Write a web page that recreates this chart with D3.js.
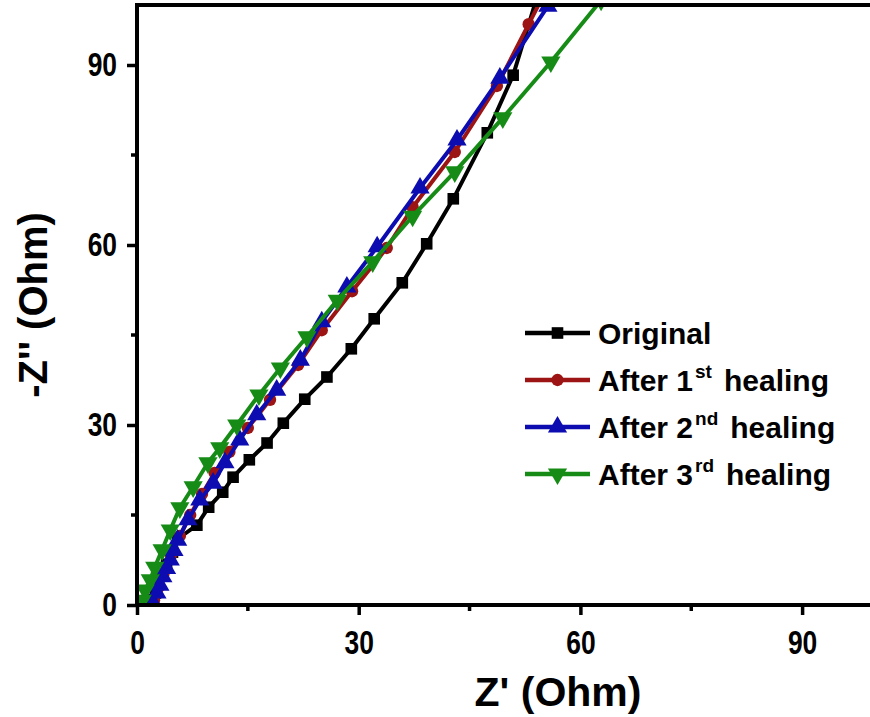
<!DOCTYPE html>
<html>
<head>
<meta charset="utf-8">
<script src="https://cdn.jsdelivr.net/npm/d3@7"></script>
<style>
  body { margin: 0; background: #fff; }
  svg { display: block; }
</style>
</head>
<body>
<svg id="drawing_region"></svg>
<script>
// Z' and -Z'' values (Ohm)
const original_x = [2.0, 2.2, 2.5, 2.9, 3.4, 4.0, 4.8, 5.5, 8.1, 9.7, 11.6, 13.0, 15.2, 17.6, 19.8, 22.7, 25.7, 29.0, 32.1, 35.9, 39.2, 42.8, 47.4, 50.9, 54.8];
const original_y = [0.3, 0.9, 2.0, 3.4, 5.0, 6.8, 8.8, 11.0, 13.3, 16.3, 18.8, 21.3, 24.2, 27.0, 30.3, 34.3, 38.0, 42.7, 47.7, 53.7, 60.2, 67.7, 78.7, 88.3, 104];

const heal1_x = [2.3, 2.8, 3.6, 4.6, 5.8, 7.2, 8.8, 10.5, 12.5, 15.0, 18.0, 21.8, 25.0, 29.1, 33.8, 37.3, 43.0, 48.7, 53.0, 56.0];
const heal1_y = [0.8, 2.8, 5.3, 8.3, 11.5, 15.0, 18.5, 22.0, 25.5, 29.5, 34.2, 40.0, 45.8, 52.3, 59.5, 66.3, 75.5, 86.5, 96.8, 104];

const heal2_x = [2.2, 2.7, 3.1, 3.5, 4.0, 4.5, 5.0, 5.5, 6.9, 8.5, 10.3, 11.9, 13.9, 16.2, 18.9, 22.1, 25.0, 28.4, 32.5, 38.3, 43.3, 49.1, 55.6];
const heal2_y = [0.3, 2.0, 3.3, 4.7, 6.1, 7.5, 9.1, 10.8, 14.2, 17.5, 20.3, 23.7, 27.5, 31.7, 35.8, 40.8, 47.2, 53.0, 59.7, 69.5, 77.5, 87.8, 99.8];

const heal3_x = [0.7, 1.1, 1.8, 2.4, 3.4, 4.5, 5.8, 7.6, 9.6, 11.2, 13.5, 16.5, 19.4, 23.0, 27.1, 31.9, 37.3, 43.0, 49.5, 56.0, 62.8];
const heal3_y = [0.8, 2.5, 4.2, 6.3, 9.2, 12.5, 16.2, 19.7, 23.7, 26.2, 30.0, 35.0, 39.5, 44.7, 50.8, 57.2, 64.8, 72.2, 81.2, 90.5, 100.8];

const series_names = ['Original', 'After 1', 'After 2', 'After 3'];
const series_sup = ['', 'st', 'nd', 'rd'];
const series_colors = ['#000000', '#9c1414', '#0c0cb0', '#168c16'];
const series_symbols = ['square', 'circle', 'triangle', 'down'];

const x_ticks = [0, 30, 60, 90];
const y_ticks = [0, 30, 60, 90];
const minor_ticks = [15, 45, 75];

const series = [
    {x: original_x, y: original_y},
    {x: heal1_x, y: heal1_y},
    {x: heal2_x, y: heal2_y},
    {x: heal3_x, y: heal3_y}
].map((s, i) => ({
    name: series_names[i],
    sup: series_sup[i],
    color: series_colors[i],
    symbol: series_symbols[i],
    points: s.x.map((v, j) => ({x: v, y: s.y[j]}))
}));

const width = 870, height = 717;
const svg = d3.select('#drawing_region')
    .attr('width', width)
    .attr('height', height);

const xscale = d3.scaleLinear().domain([0, 100]).range([137, 876]);
const yscale = d3.scaleLinear().domain([0, 100]).range([605, 5]);

const font = "'Liberation Sans', Arial, sans-serif";

svg.append('defs').append('clipPath').attr('id', 'plot_clip')
    .append('rect')
    .attr('x', xscale(0)).attr('y', yscale(100))
    .attr('width', xscale(100) - xscale(0))
    .attr('height', yscale(0) - yscale(100));

function marker(sym) {
    if (sym === 'square') return d3.symbol(d3.symbolSquare, 135)();
    if (sym === 'circle') return d3.symbol(d3.symbolCircle, 120)();
    return d3.symbol(d3.symbolTriangle, 160)();
}

// data
const plot = svg.append('g').attr('clip-path', 'url(#plot_clip)');
const line = d3.line().x(d => xscale(d.x)).y(d => yscale(d.y));

series.forEach(s => {
    const g = plot.append('g');
    g.append('path')
        .datum(s.points)
        .attr('d', line)
        .attr('fill', 'none')
        .attr('stroke', s.color)
        .attr('stroke-width', 4)
        .attr('stroke-linejoin', 'round');
    g.selectAll('path.pt')
        .data(s.points)
        .join('path')
        .attr('class', 'pt')
        .attr('d', marker(s.symbol))
        .attr('fill', s.color)
        .attr('transform', d => `translate(${xscale(d.x)},${yscale(d.y)})` + (s.symbol === 'down' ? ' rotate(180)' : ''));
});

// axes
const xaxis = d3.axisBottom(xscale).tickValues(x_ticks).tickSize(10).tickPadding(16);
const yaxis = d3.axisLeft(yscale).tickValues(y_ticks).tickSize(10).tickPadding(10);

const xg = svg.append('g').attr('transform', `translate(0,${yscale(0)})`).call(xaxis);
const yg = svg.append('g').attr('transform', `translate(${xscale(0)},0)`).call(yaxis);

[xg, yg].forEach(g => {
    g.select('.domain').remove();
    g.selectAll('.tick line').attr('stroke', '#000').attr('stroke-width', 3.5);
    g.selectAll('.tick text')
        .attr('fill', '#000')
        .style('font-family', font)
        .style('font-weight', 'bold')
        .style('font-size', '33px');
});
// condensed look of the tick digits
xg.selectAll('.tick text').attr('transform', 'scale(0.8,1)');
yg.selectAll('.tick text').attr('x', -20 / 0.8).attr('transform', 'scale(0.8,1)');

xg.selectAll('.minor')
    .data(minor_ticks)
    .join('line')
    .attr('x1', d => xscale(d)).attr('x2', d => xscale(d))
    .attr('y1', 0).attr('y2', 6)
    .attr('stroke', '#000').attr('stroke-width', 3.5);

yg.selectAll('.minor')
    .data(minor_ticks)
    .join('line')
    .attr('y1', d => yscale(d)).attr('y2', d => yscale(d))
    .attr('x1', 0).attr('x2', -6)
    .attr('stroke', '#000').attr('stroke-width', 3.5);

// frame: left, bottom, top
svg.append('line')
    .attr('x1', xscale(0)).attr('x2', xscale(0))
    .attr('y1', yscale(100) - 2).attr('y2', yscale(0) + 2)
    .attr('stroke', '#000').attr('stroke-width', 4);
svg.append('line')
    .attr('x1', xscale(0) - 2).attr('x2', width)
    .attr('y1', yscale(0)).attr('y2', yscale(0))
    .attr('stroke', '#000').attr('stroke-width', 4);
svg.append('line')
    .attr('x1', xscale(0) - 2).attr('x2', width)
    .attr('y1', yscale(100)).attr('y2', yscale(100))
    .attr('stroke', '#000').attr('stroke-width', 4);

// axis titles
svg.append('text')
    .attr('x', 558).attr('y', 706)
    .attr('text-anchor', 'middle')
    .style('font-family', font)
    .style('font-weight', 'bold')
    .style('font-size', '41px')
    .text("Z' (Ohm)");

svg.append('text')
    .attr('transform', 'translate(47,305) rotate(-90)')
    .attr('text-anchor', 'middle')
    .style('font-family', font)
    .style('font-weight', 'bold')
    .style('font-size', '40px')
    .text("-Z'' (Ohm)");

// legend
const legend = svg.append('g').attr('transform', 'translate(525,333)');
series.forEach((s, i) => {
    const row = legend.append('g').attr('transform', `translate(0,${i * 47})`);
    row.append('line')
        .attr('x1', 0).attr('x2', 65)
        .attr('y1', 0).attr('y2', 0)
        .attr('stroke', s.color).attr('stroke-width', 4.5);
    row.append('path')
        .attr('d', marker(s.symbol))
        .attr('fill', s.color)
        .attr('transform', `translate(32.5,0)` + (s.symbol === 'down' ? ' rotate(180)' : ''));
    const t = row.append('text')
        .attr('x', 73).attr('y', 11)
        .style('font-family', font)
        .style('font-weight', 'bold')
        .style('font-size', '30px')
        .attr('fill', '#000');
    t.append('tspan').text(s.name);
    if (s.sup) {
        t.append('tspan').attr('dy', -13).attr('dx', 2).style('font-size', '19px').text(s.sup);
        t.append('tspan').attr('dy', 13).attr('dx', 12).text('healing');
    }
});
</script>
</body>
</html>
